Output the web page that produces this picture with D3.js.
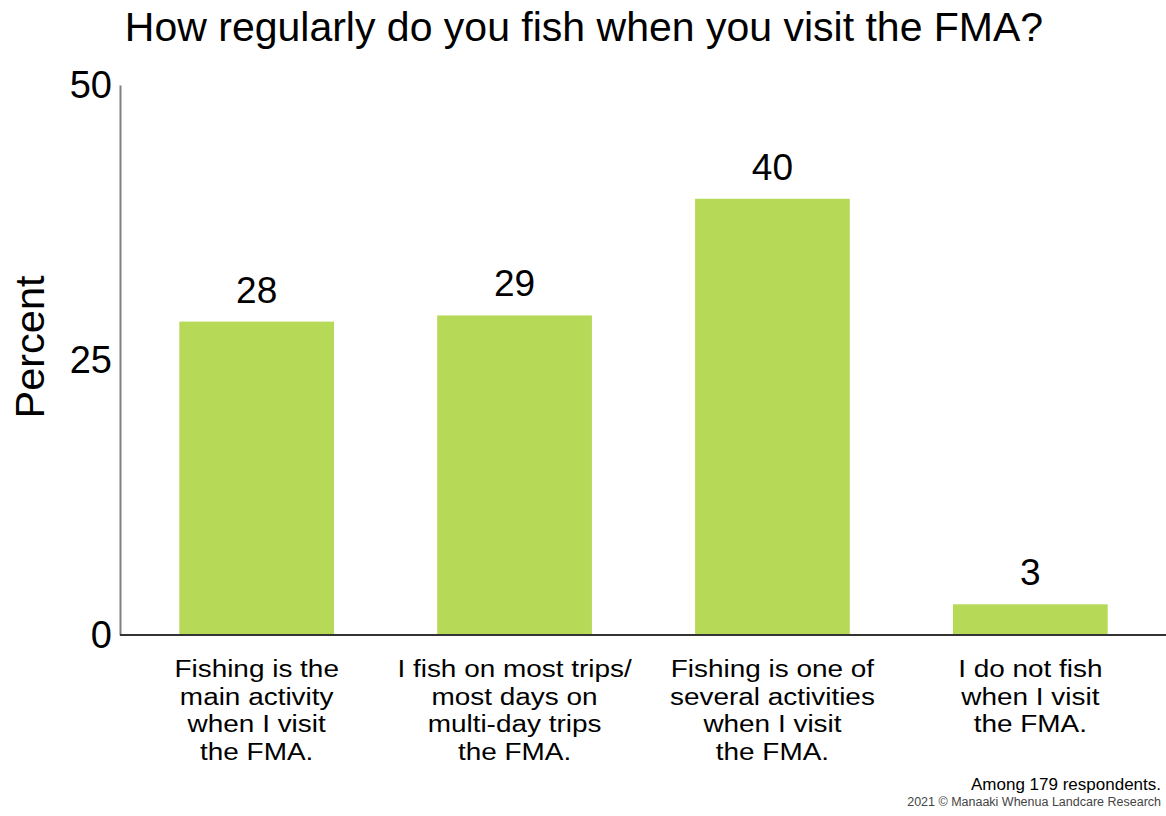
<!DOCTYPE html>
<html>
<head>
<meta charset="utf-8">
<script src="https://cdn.jsdelivr.net/npm/d3@7"></script>
<style>
  html, body { margin: 0; padding: 0; background: #fff; }
  svg { display: block; font-family: "Liberation Sans", Arial, sans-serif; }
</style>
</head>
<body>
<svg id="chart" width="1166" height="816"></svg>
<script>
const categories = [
  ["Fishing is the", "main activity", "when I visit", "the FMA."],
  ["I fish on most trips/", "most days on", "multi-day trips", "the FMA."],
  ["Fishing is one of", "several activities", "when I visit", "the FMA."],
  ["I do not fish", "when I visit", "the FMA."]
];
const values = [28.49, 29.05, 39.66, 2.79];
const valueLabels = ["28", "29", "40", "3"];
const yTicks = [0, 25, 50];
const title = "How regularly do you fish when you visit the FMA?";
const yTitle = "Percent";
const note = "Among 179 respondents.";
const credit = "2021 \u00a9 Manaaki Whenua Landcare Research";

const svg = d3.select("#chart");
const x0 = 120, yTop = 85, yBase = 635;

const x = d3.scaleBand()
  .domain(d3.range(values.length))
  .range([x0, 1167])
  .paddingInner(0.4)
  .paddingOuter(0.23);

const y = d3.scaleLinear().domain([0, 50]).range([yBase, yTop]);

// title
svg.append("text")
  .attr("x", 584).attr("y", 41)
  .attr("text-anchor", "middle")
  .attr("font-size", 41)
  .attr("fill", "#000")
  .text(title);

// bars
svg.selectAll("rect.bar").data(values).join("rect")
  .attr("class", "bar")
  .attr("x", (d, i) => x(i))
  .attr("width", x.bandwidth())
  .attr("y", d => y(d))
  .attr("height", d => y(0) - y(d))
  .attr("fill", "#b6da58");

// value labels
svg.selectAll("text.val").data(values).join("text")
  .attr("class", "val")
  .attr("x", (d, i) => x(i) + x.bandwidth() / 2)
  .attr("y", d => y(d) - 19)
  .attr("text-anchor", "middle")
  .attr("font-size", 37)
  .attr("fill", "#000")
  .text((d, i) => valueLabels[i]);

// y axis
const yAxis = d3.axisLeft(y).tickValues(yTicks).tickSize(0).tickPadding(8);
const gy = svg.append("g").attr("transform", `translate(${x0},0)`).call(yAxis);
gy.select(".domain").attr("stroke", "#808080").attr("stroke-width", 2);
gy.selectAll("text").attr("font-size", 38).attr("fill", "#000")
  .attr("font-family", "Liberation Sans, Arial, sans-serif");

// x axis
const xAxis = d3.axisBottom(x).tickSize(0).tickFormat("");
const gx = svg.append("g").attr("transform", `translate(0,${yBase})`).call(xAxis);
gx.select(".domain").attr("stroke", "#333").attr("stroke-width", 2)
  .attr("d", `M${x0},0H1166`);

// category labels (slightly widened to match the reference's stretched lettering)
categories.forEach((lines, i) => {
  const g = svg.append("g")
    .attr("transform", `translate(${x(i) + x.bandwidth() / 2},0) scale(1.14,1)`);
  lines.forEach((ln, j) => {
    g.append("text")
      .attr("x", 0)
      .attr("y", 677 + j * 27.7)
      .attr("text-anchor", "middle")
      .attr("font-size", 24.5)
      .attr("fill", "#000")
      .text(ln);
  });
});

// y title
svg.append("text")
  .attr("transform", "translate(44,347) rotate(-90)")
  .attr("text-anchor", "middle")
  .attr("font-size", 41.5)
  .attr("fill", "#000")
  .text(yTitle);

// notes
svg.append("text")
  .attr("x", 1161).attr("y", 790)
  .attr("text-anchor", "end")
  .attr("font-size", 17)
  .attr("fill", "#000")
  .text(note);
svg.append("text")
  .attr("x", 1161).attr("y", 806)
  .attr("text-anchor", "end")
  .attr("font-size", 12.5)
  .attr("fill", "#444")
  .text(credit);
</script>
</body>
</html>
